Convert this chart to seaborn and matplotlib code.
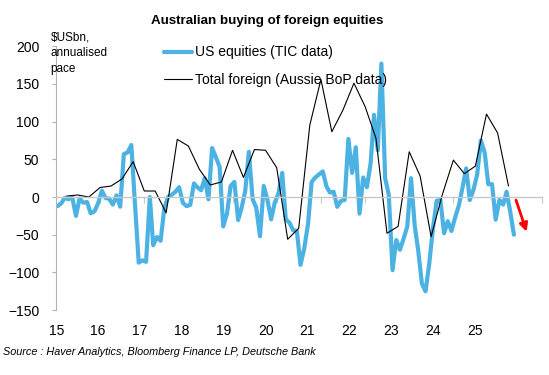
import numpy as np
import pandas as pd
import matplotlib
matplotlib.use("Agg")
import matplotlib.pyplot as plt
import matplotlib.dates as mdates
import seaborn as sns

# ---------------- data ----------------
title = "Australian buying of foreign equities"
y_unit_label = "$USbn,\nannualised\npace"
source_text = "Source : Haver Analytics, Bloomberg Finance LP, Deutsche Bank"
series_us = "US equities (TIC data)"
series_total = "Total foreign (Aussie BoP data)"

# monthly, Jan 2015 .. May 2025
us_equities = [
    -12, -8, -1, -3, 0, -25, -2, -7.5, -6.6, -21.6, -19, -8.4,
    8.4, -1.3, -2.2, -10, 2.2, -12.8, 57, 59, 69, -9, -87, -84,
    -86, 0, -64, -53, -58, -15, 0, 3, 7, 13, -7.5, -12,
    -10.6, 18, 13, 9, 25, -3, 65, 53, 40, -39, -22, 14.6,
    20, -30.5, -15, 8, 60, -3, -14, -52, 14.6, -3, -29.6, -7.5,
    5, 32, -29.6, -34, -44, -45, -90, -68, -36, 20, 26, 30,
    34, 14, 6, 7, -13, -5, -4, 77, 32, 66, -22, 26,
    13, 45, 109, 62, 177, 25, 3, -97, -57, -70, -55, -39,
    25, -39, -70, -115, -125, -88, -42, -5, -4, -48, -32, -45,
    -27, -11, 12, 38, -4, 10, 30, 75, 59, 17, 17, -30,
    -4, -10, 7, -20, -50,
]
# quarterly, Q1 2015 .. Q1 2025
total_foreign = [
    1.3, 2.7, 0, 12.6, 14.6, 24, 47, 8, 8, -21, 76.5, 67.6,
    37, 16, 20, 62, 26, 63, 62, 39, -56, -41.5, 95.5, 156,
    86.6, 115, 151, 120, 78, -48, -39, 60, 28, -52.6, 2.7, 49,
    31, 41, 110, 85, 14.6,
]
x_labels = ["15", "16", "17", "18", "19", "20", "21", "22", "23", "24", "25"]
arrow_start = ("2025-06-01", -4)
arrow_end = ("2025-08-28", -46)

us_dates = pd.date_range("2015-01-01", periods=len(us_equities), freq="MS") + pd.Timedelta(days=14)
try:
    q_dates = pd.date_range("2015-01-01", periods=len(total_foreign), freq="QE")
except Exception:
    q_dates = pd.date_range("2015-01-01", periods=len(total_foreign), freq="Q")

df_us = pd.DataFrame({"date": us_dates, "value": us_equities})
df_tot = pd.DataFrame({"date": q_dates, "value": total_foreign})

# ---------------- style ----------------
sns.set_theme(style="white")
plt.rcParams["font.family"] = ["Liberation Sans", "DejaVu Sans"]
plt.rcParams["text.color"] = "black"
plt.rcParams["xtick.color"] = "black"
plt.rcParams["ytick.color"] = "black"

BLUE = "#4BB2E3"
GRAY = "#b3b3b3"

fig = plt.figure(figsize=(5.49, 3.75), dpi=100)
ax = fig.add_axes([0.102, 0.173, 0.885, 0.7037])

sns.lineplot(data=df_us, x="date", y="value", ax=ax, color=BLUE, lw=3,
             label=series_us, estimator=None)
sns.lineplot(data=df_tot, x="date", y="value", ax=ax, color="black", lw=0.8,
             label=series_total, estimator=None)

ax.set_xlim(pd.Timestamp("2015-01-01"), pd.Timestamp("2026-01-01"))
ax.set_ylim(-150, 200)
ax.set_yticks(np.arange(-150, 201, 50))
ax.set_xlabel("")
ax.set_ylabel("")

for s in ["top", "right"]:
    ax.spines[s].set_visible(False)
ax.spines["left"].set_color(GRAY)
ax.spines["left"].set_linewidth(0.8)
ax.spines["bottom"].set_position(("data", 0))
ax.spines["bottom"].set_color("#c8c8c8")
ax.spines["bottom"].set_linewidth(1.0)

ax.tick_params(axis="y", left=True, direction="out", length=3, width=0.8,
               color=GRAY, labelsize=10, pad=9, labelcolor="black")
ax.xaxis.set_major_locator(mdates.YearLocator())
ax.tick_params(axis="x", bottom=True, direction="out", length=4, width=0.8,
               color="#c8c8c8", labelbottom=False)

# year labels along the bottom of the plot
sec = ax.secondary_xaxis(0)
x0, x1 = ax.get_xlim()
label_pos = x0 + (x1 - x0) * (0.0006 + 0.08615 * np.arange(len(x_labels)))
sec.set_xticks(label_pos, labels=x_labels)
sec.tick_params(length=0, pad=10, labelsize=10, labelcolor="black")
sec.spines["bottom"].set_visible(False)

# red arrow
ax.annotate("", xy=(mdates.date2num(pd.Timestamp(arrow_end[0])), arrow_end[1]),
            xytext=(mdates.date2num(pd.Timestamp(arrow_start[0])), arrow_start[1]),
            arrowprops=dict(arrowstyle="-|>", color="red", lw=2, mutation_scale=12,
                            shrinkA=0, shrinkB=0))

# legend
ax.legend(loc="upper left", bbox_to_anchor=(0.2987, 0.879),
          bbox_transform=fig.transFigure, frameon=False, fontsize=10,
          handlelength=2.0, handletextpad=0.25, labelspacing=0.98,
          borderpad=0, borderaxespad=0)

fig.text(0.486, 0.945, title, ha="center", va="center", fontsize=9.6,
         fontweight="bold")
fig.text(0.0923, 0.858, y_unit_label, ha="left", va="center", fontsize=8.5,
         linespacing=1.45)
fig.text(0.0055, 0.0613, source_text, ha="left", va="center", fontsize=7.8,
         style="italic")

fig.savefig("out.png", dpi=100)
